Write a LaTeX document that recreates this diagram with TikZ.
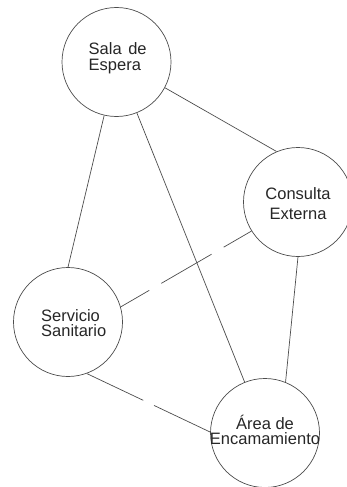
\documentclass[tikz,border=0pt]{standalone}
\usepackage{fontspec}
\setmainfont{Liberation Sans}
\begin{document}
\begin{tikzpicture}[x=1pt,y=-1pt,
  room/.style={circle, draw=black!70, line width=0.7pt, minimum size=109pt, inner sep=0pt},
  lbl/.style={inner sep=0pt, text=black!85},
  link/.style={draw=black!70, line width=0.7pt},
  dashA/.style={dash pattern=on 58pt off 14pt, dash phase=25pt},
  dashB/.style={dash pattern=on 62.5pt off 12pt}]
\useasboundingbox (0,0) rectangle (346,487);
\node[room] (sala) at (116.5,62) {};
\node[room] (cons) at (298,202) {};
\node[room] (serv) at (68,322) {};
\node[room] (area) at (265,433) {};
\node[lbl, anchor=west, align=left, font=\fontsize{16.5}{15.7}\selectfont] (salaT) at (88.5,58) {Sala\kern2pt{} de\\Espera};
\node[lbl, anchor=center, align=center, font=\fontsize{16.5}{20}\selectfont] (consT) at (298,204) {Consulta\\Externa};
\node[lbl, anchor=west, align=left, font=\fontsize{16.5}{15}\selectfont] (servT) at (41,322.6) {Servicio\\Sanitario};
\node[lbl, anchor=center, align=center, font=\fontsize{16.5}{15}\selectfont] (areaT) at (265,430) {Área de\\Encamamiento};
\draw[link] (sala.257.5) -- (serv.90);
\draw[link] (sala) -- (area);
\draw[link] (sala.332) -- (cons.113);
\draw[link] (cons.270) -- (area.68.6);
\draw[link,dashA] (serv.16.4) -- (cons.212);
\draw[link,dashB] (serv.290) -- (area.179);
\end{tikzpicture}
\end{document}
